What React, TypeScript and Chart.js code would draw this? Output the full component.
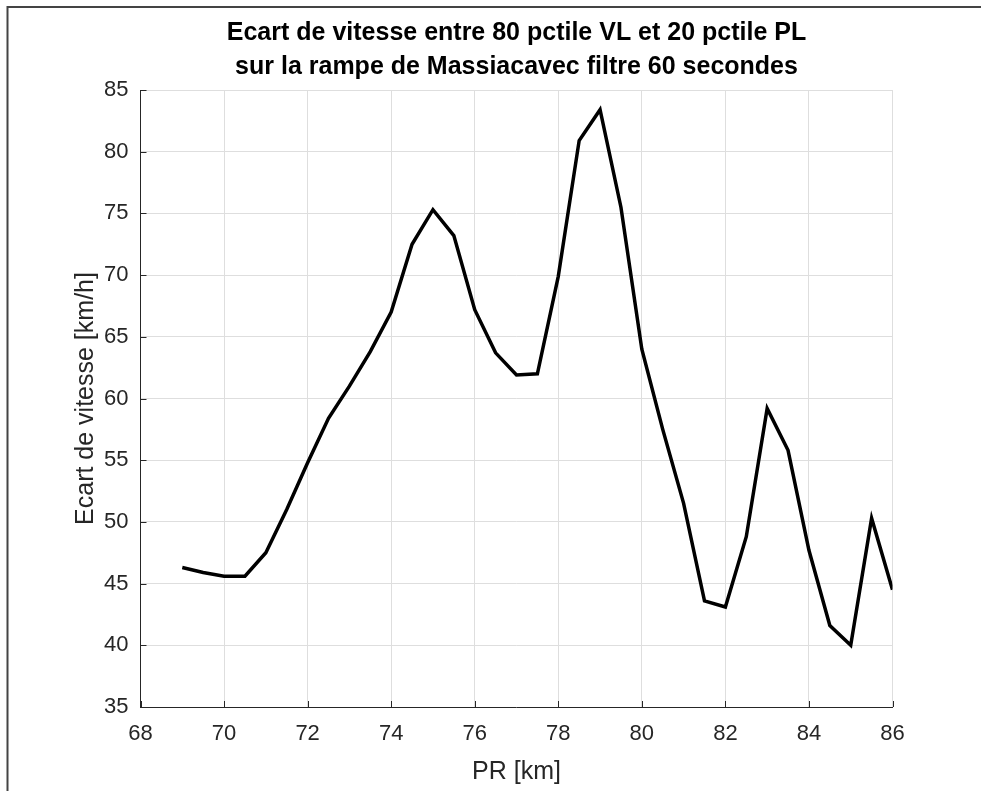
import React, { useEffect, useRef } from "react";
import { Chart, registerables } from "chart.js";

Chart.register(...registerables);

const pr: number[] = [69, 69.5, 70, 70.5, 71, 71.5, 72, 72.5, 73, 73.5, 74, 74.5, 75, 75.5, 76, 76.5, 77, 77.5, 78, 78.5, 79, 79.5, 80, 80.5, 81, 81.5, 82, 82.5, 83, 83.5, 84, 84.5, 85, 85.5, 86];
const ecart: number[] = [46.3, 45.9, 45.6, 45.6, 47.5, 51.0, 54.8, 58.4, 61.0, 63.8, 67.0, 72.5, 75.3, 73.2, 67.2, 63.7, 61.9, 62.0, 69.9, 80.9, 83.4, 75.5, 64.0, 57.5, 51.5, 43.6, 43.1, 48.8, 59.2, 55.8, 47.7, 41.6, 40.0, 50.3, 44.5];
const titleLines: string[] = ["Ecart de vitesse entre 80 pctile VL et 20 pctile PL", "sur la rampe de Massiacavec filtre 60 secondes"];
const xLabel = "PR [km]";
const yLabel = "Ecart de vitesse [km/h]";

const FONT = "'Liberation Sans', Arial, Helvetica, sans-serif";
const AXIS = "#262626";

const framePlugin = {
  id: "frame",
  beforeDraw(chart: any) {
    const ctx = chart.ctx;
    ctx.save();
    ctx.fillStyle = "#ffffff";
    ctx.fillRect(0, 0, chart.width, chart.height);
    ctx.strokeStyle = "#444444";
    ctx.lineWidth = 2;
    ctx.beginPath();
    ctx.moveTo(7.5, chart.height);
    ctx.lineTo(7.5, 7);
    ctx.lineTo(chart.width, 7);
    ctx.stroke();
    ctx.restore();
  },
  afterDatasetsDraw(chart: any) {
    const ctx = chart.ctx;
    const xs = chart.scales.x;
    const ys = chart.scales.y;
    const a = chart.chartArea;
    ctx.save();
    ctx.strokeStyle = AXIS;
    ctx.lineWidth = 1;
    ctx.beginPath();
    xs.ticks.forEach((t: any) => {
      const px = Math.round(xs.getPixelForValue(t.value)) + 0.5;
      ctx.moveTo(px, a.bottom);
      ctx.lineTo(px, a.bottom - 6);
    });
    ys.ticks.forEach((t: any) => {
      const py = Math.round(ys.getPixelForValue(t.value)) + 0.5;
      ctx.moveTo(a.left, py);
      ctx.lineTo(a.left + 6, py);
    });
    ctx.stroke();
    ctx.restore();
  },
};

export default function App() {
  const ref = useRef<HTMLCanvasElement | null>(null);
  useEffect(() => {
    document.body.style.margin = "0";
    const canvas = ref.current;
    if (!canvas) return;
    const chart = new Chart(canvas, {
      type: "line",
      data: {
        datasets: [
          {
            data: pr.map((x, i) => ({ x, y: ecart[i] })),
            borderColor: "#000000",
            borderWidth: 3.5,
            pointRadius: 0,
            tension: 0,
            fill: false,
          },
        ],
      },
      options: {
        animation: false,
        responsive: false,
        devicePixelRatio: 1,
        layout: { padding: { left: 0, right: 88.5, top: 0, bottom: 0 } },
        plugins: {
          legend: { display: false },
          tooltip: { enabled: false },
          title: {
            display: true,
            text: titleLines,
            fullSize: false,
            color: "#000000",
            font: { family: FONT, size: 25, weight: "bold", lineHeight: 1.36 },
            padding: { top: 16, bottom: 6 },
          },
        },
        scales: {
          x: {
            type: "linear",
            min: 68,
            max: 86,
            afterFit: (s: any) => {
              s.height = 84;
            },
            ticks: {
              stepSize: 2,
              color: AXIS,
              padding: 14,
              font: { family: FONT, size: 22 },
              maxRotation: 0,
            },
            grid: { color: "#dedede", lineWidth: 1, drawTicks: false },
            border: { display: true, color: AXIS, width: 1 },
            title: {
              display: true,
              text: xLabel,
              color: AXIS,
              font: { family: FONT, size: 25 },
              padding: { top: 0, bottom: 4 },
            },
          },
          y: {
            type: "linear",
            min: 35,
            max: 85,
            afterFit: (s: any) => {
              s.width = 140.5;
            },
            ticks: {
              stepSize: 5,
              color: AXIS,
              padding: 12,
              font: { family: FONT, size: 22 },
            },
            grid: { color: "#dedede", lineWidth: 1, drawTicks: false },
            border: { display: true, color: AXIS, width: 1 },
            title: {
              display: true,
              text: yLabel,
              color: AXIS,
              font: { family: FONT, size: 25 },
              padding: { top: 71, bottom: 0 },
            },
          },
        },
      },
      plugins: [framePlugin],
    });
    return () => chart.destroy();
  }, []);
  return (
    <div style={{ width: 981, height: 791, background: "#fff" }}>
      <canvas ref={ref} width={981} height={791} style={{ display: "block" }} />
    </div>
  );
}
